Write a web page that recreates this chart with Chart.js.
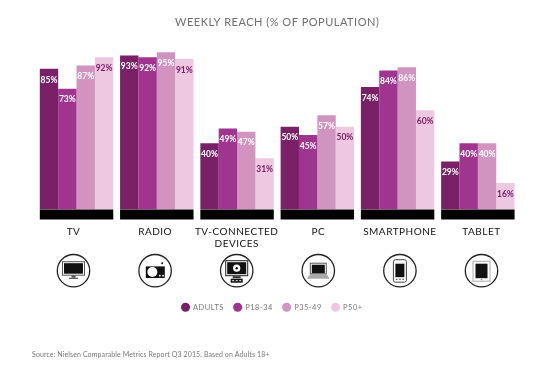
<!DOCTYPE html>
<html><head><meta charset="utf-8">
<style>html,body{margin:0;padding:0;background:#fff}canvas{display:block}</style>
<script src="https://cdn.jsdelivr.net/npm/chart.js@4"></script>
</head><body>
<canvas id="c" width="552" height="370"></canvas>
<script>
const categories = ['TV','RADIO',['TV-CONNECTED','DEVICES'],'PC','SMARTPHONE','TABLET'];
const adults = [85,93,40,50,74,29];
const p1834  = [73,92,49,45,84,40];
const p3549  = [87,95,47,57,86,40];
const p50    = [92,91,31,50,60,16];
const seriesNames = ['ADULTS','P18-34','P35-49','P50+'];
const seriesColors = ['#7a2066','#a03590','#d193bf','#edc8e0'];
const labelColors = ['#ffffff','#ffffff','#ffffff','#7a2066'];
const titleText = 'WEEKLY REACH (% OF POPULATION)';
const sourceText = 'Source: Nielsen Comparable Metrics Report Q3 2015. Based on Adults 18+';
const FONT = 'Lato, sans-serif';

function circle(ctx,x,y,r){ctx.beginPath();ctx.arc(x,y,r,0,Math.PI*2);}
const icons = [
  (c,x,y)=>{ // TV
    c.fillStyle='#111';c.fillRect(x-9.5,y-7.5,19,10.5);
    c.strokeStyle='#555';c.lineWidth=1;c.strokeRect(x-11,y-9,22,13.5);
    c.fillStyle='#555';c.fillRect(x-2,y+4.5,4,2.5);c.fillRect(x-4.5,y+7,9,1.2);
  },
  (c,x,y)=>{ // radio
    c.fillStyle='#111';c.fillRect(x-9.3,y-4.3,19,11.6);
    c.fillStyle='#fff';circle(c,x-2.7,y+1.3,5);c.fill();
    circle(c,x+4.7,y+5,.9);c.fill();circle(c,x+8,y+5,.9);c.fill();
    c.fillStyle='#111';circle(c,x+7,y-7.5,1);c.fill();
  },
  (c,x,y)=>{ // tv-connected
    c.strokeStyle='#222';c.lineWidth=1;c.strokeRect(x-11,y-10,22,15);
    c.fillStyle='#111';c.fillRect(x-9.5,y-8.5,19,12);
    c.fillStyle='#fff';circle(c,x,y-2.5,3.6);c.fill();
    c.fillStyle='#111';circle(c,x,y-2.5,1.2);c.fill();
    c.fillStyle='#333';c.fillRect(x-4,y+5.5,8,2);
    c.fillStyle='#111';c.fillRect(x-6,y+8,12,4);
    c.fillStyle='#fff';c.fillRect(x-4.5,y+9.5,2,1);c.fillRect(x-1,y+9.5,2,1);c.fillRect(x+2.5,y+9.5,2,1);
  },
  (c,x,y)=>{ // laptop
    c.strokeStyle='#555';c.lineWidth=1;c.strokeRect(x-8,y-7.5,16,10.5);
    c.fillStyle='#111';c.fillRect(x-6.5,y-6,13,8.5);
    c.fillStyle='#aaa';c.beginPath();c.moveTo(x-8,y+3);c.lineTo(x+8,y+3);c.lineTo(x+11.5,y+8);c.lineTo(x-11.5,y+8);c.closePath();c.fill();
  },
  (c,x,y)=>{ // phone
    c.strokeStyle='#444';c.lineWidth=1;c.beginPath();c.roundRect(x-6.5,y-11,13,22.5,2);c.stroke();
    c.fillStyle='#111';c.fillRect(x-4.5,y-7,9,13.5);
    c.fillStyle='#555';c.fillRect(x-4,y+8,1.5,1.2);c.fillRect(x-.7,y+8,1.5,1.2);c.fillRect(x+2.5,y+8,1.5,1.2);
  },
  (c,x,y)=>{ // tablet
    c.strokeStyle='#aaa';c.lineWidth=1;c.strokeRect(x-8.5,y-9.5,17,20);
    c.fillStyle='#111';c.fillRect(x-6,y-7,12,14.5);
    c.fillStyle='#777';c.fillRect(x-.7,y+8.5,1.4,1);
  }
];

const reachPlugin = {
  id:'reach',
  beforeUpdate(chart){chart.ctx.letterSpacing='0.5px';},
  beforeDraw(chart){chart.ctx.letterSpacing='0.5px';},
  afterLayout(chart){
    const s=chart.scales.xl;
    s.left=32.7;s.right=522.3;s.width=s.right-s.left;s.configure();
    chart.legend.left-=5;chart.legend.right-=5;
  },
  afterDatasetsDraw(chart){
    const c=chart.ctx, base=chart.scales.y.getPixelForValue(0);
    c.save();
    const m0=chart.getDatasetMeta(0).data, m3=chart.getDatasetMeta(3).data;
    c.fillStyle='#000';
    m0.forEach((b,i)=>{
      const l=b.x-b.width/2, r=m3[i].x+m3[i].width/2;
      c.fillRect(l,base,r-l,10);
    });
    c.letterSpacing='0px';c.font='bold 8.5px '+FONT;c.textAlign='center';c.textBaseline='middle';
    chart.data.datasets.forEach((d,di)=>{
      c.fillStyle=labelColors[di];
      chart.getDatasetMeta(di).data.forEach((b,i)=>{
        c.fillText(d.data[i]+'%',b.x,b.y+11);
      });
    });
    c.restore();
  },
  afterDraw(chart){
    const c=chart.ctx, xl=chart.scales.xl;
    c.save();
    c.letterSpacing='0px';
    icons.forEach((draw,i)=>{
      const x=xl.getPixelForTick(i), y=270.7;
      c.strokeStyle='#222';c.lineWidth=1.3;circle(c,x,y,16.2);c.stroke();
      draw(c,x,y);
    });
    c.letterSpacing='0.1px';c.font='7px '+FONT;c.fillStyle='#777';c.textAlign='left';c.textBaseline='middle';
    c.fillText(sourceText,32,355);
    c.restore();
  }
};

new Chart(document.getElementById('c'),{
  type:'bar',
  data:{labels:categories,datasets:[
    {label:seriesNames[0],data:adults,backgroundColor:seriesColors[0]},
    {label:seriesNames[1],data:p1834,backgroundColor:seriesColors[1]},
    {label:seriesNames[2],data:p3549,backgroundColor:seriesColors[2]},
    {label:seriesNames[3],data:p50,backgroundColor:seriesColors[3]}
  ]},
  plugins:[reachPlugin],
  options:{
    responsive:false,animation:false,
    layout:{padding:{left:36.4,right:34,top:16,bottom:49}},
    datasets:{bar:{barPercentage:1,categoryPercentage:0.915}},
    plugins:{
      tooltip:{enabled:false},
      title:{display:true,text:titleText,color:'#6f6f72',font:{family:FONT,size:11,weight:'normal'},padding:{top:0,bottom:14.8}},
      legend:{position:'bottom',labels:{usePointStyle:true,pointStyle:'circle',boxWidth:9,boxHeight:6.4,padding:10,color:'#77777a',font:{family:FONT,size:7.5}}}
    },
    scales:{
      x:{display:false,grid:{display:false}},
      xl:{type:'category',labels:categories,position:'bottom',
        grid:{display:false,drawTicks:false},border:{display:false},
        ticks:{padding:17,autoSkip:false,maxRotation:0,minRotation:0,color:'#111',font:{family:FONT,size:10,lineHeight:1.15}},
        afterFit(s){s.height=84;}
      },
      y:{display:false,min:0,max:100,grid:{display:false}}
    }
  }
});
</script>
</body></html>
